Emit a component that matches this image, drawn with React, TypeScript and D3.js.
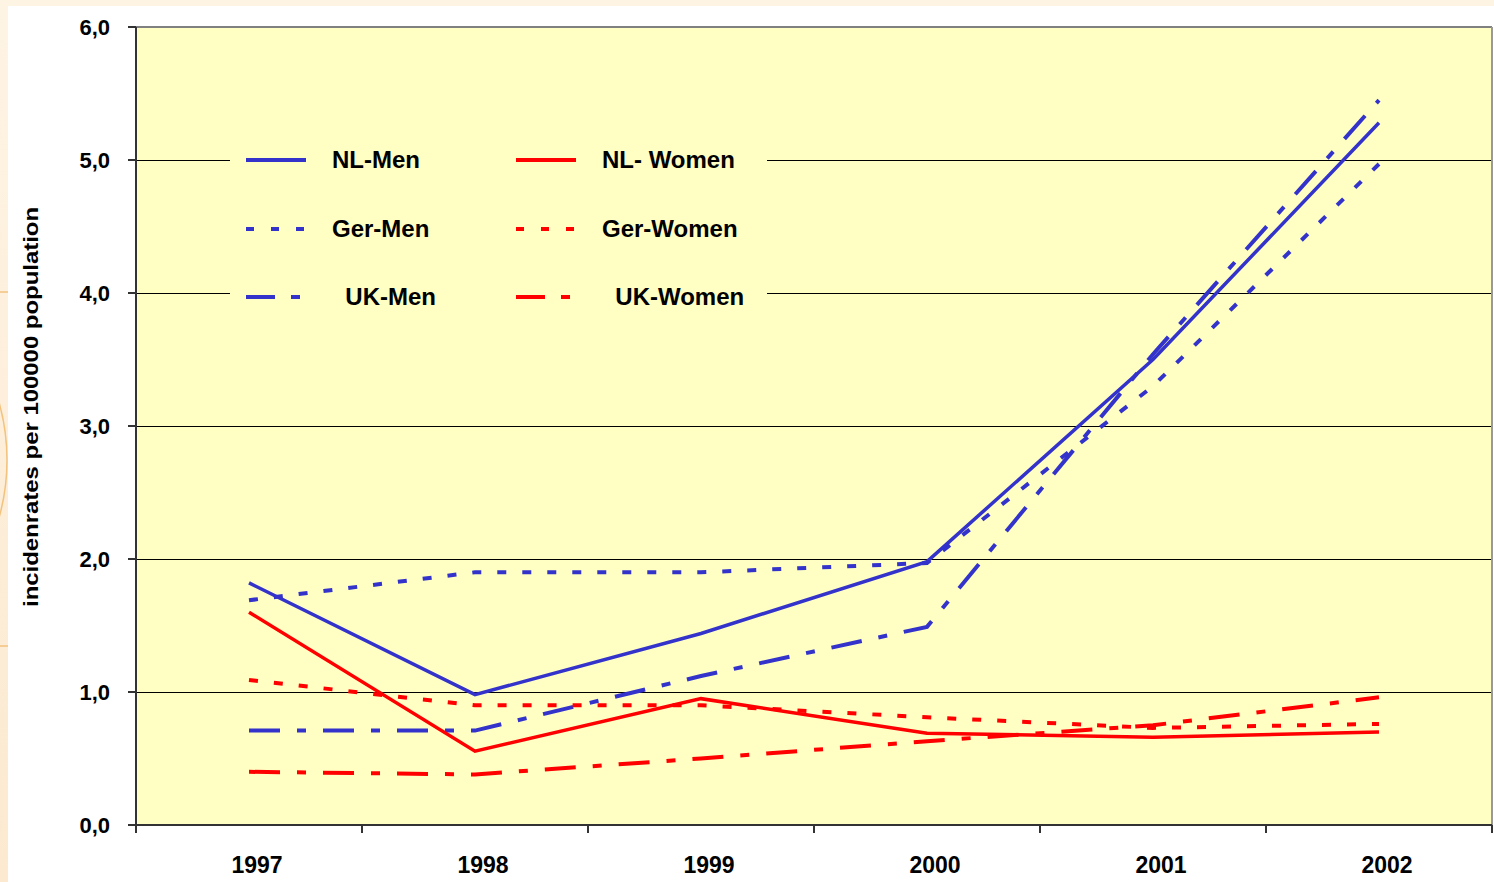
import React from 'react';
import * as d3 from 'd3';

// values
const years = ['1997', '1998', '1999', '2000', '2001', '2002'];
const nlMen = [1.82, 0.98, 1.44, 1.98, 3.5, 5.28];
const gerMen = [1.69, 1.9, 1.9, 1.97, 3.3, 4.97];
const ukMen = [0.71, 0.71, 1.12, 1.49, 3.54, 5.45];
const nlWomen = [1.6, 0.555, 0.95, 0.69, 0.66, 0.7];
const gerWomen = [1.09, 0.9, 0.9, 0.81, 0.73, 0.76];
const ukWomen = [0.4, 0.38, 0.5, 0.63, 0.75, 0.96];
const yTicks = [0, 1, 2, 3, 4, 5, 6];

const BLUE = '#3333CC';
const RED = '#FF0000';
const FONT = '"Liberation Sans", Arial, sans-serif';

const DOT = '9,16';
const DASHDOT = '31,17,9,17';

const series = [
  { name: 'NL-Men', values: nlMen, color: BLUE, dash: null },
  { name: 'Ger-Men', values: gerMen, color: BLUE, dash: DOT },
  { name: '  UK-Men', values: ukMen, color: BLUE, dash: DASHDOT },
  { name: 'NL- Women', values: nlWomen, color: RED, dash: null },
  { name: 'Ger-Women', values: gerWomen, color: RED, dash: DOT },
  { name: '  UK-Women', values: ukWomen, color: RED, dash: DASHDOT },
];

export default function App() {
  const width = 1494;
  const height = 882;
  const left = 136;
  const right = 1492;
  const top = 27;
  const bottom = 825;

  const x = d3.scalePoint<string>().domain(years).range([left, right]).padding(0.5);
  const step = x.step();
  const y = d3.scaleLinear().domain([0, 6]).range([bottom, top]);

  const line = d3
    .line<number>()
    .x((_, i) => x(years[i]) as number)
    .y((d) => y(d));

  // category boundaries for the bottom ticks
  const bounds = d3.range(years.length + 1).map((i) => left + i * step);

  // legend box sits over the grid
  const lg = { x0: 230, x1: 767, y0: 132, y1: 322 };
  const rowY = [160, 229, 297];
  const colX = [246, 516];

  return (
    <svg
      width={width}
      height={height}
      style={{ position: 'absolute', left: 0, top: 0 }}
      fontFamily={FONT}
    >
      <defs>
        <linearGradient id="peach" x1="0" y1="0" x2="0" y2="1">
          <stop offset="0" stopColor="#FEF4E4" />
          <stop offset="1" stopColor="#FCE9D0" />
        </linearGradient>
        <clipPath id="edge">
          <rect x={0} y={0} width={8} height={height} />
        </clipPath>
      </defs>
      <rect width={width} height={height} fill="url(#peach)" />
      <g clipPath="url(#edge)" fill="none" stroke="#F2C27E" strokeWidth={1.5}>
        <circle cx={-205} cy={460} r={212} />
        <line x1={0} x2={8} y1={292} y2={292} />
        <line x1={0} x2={8} y1={646} y2={646} />
      </g>
      <rect x={8} y={6} width={width - 8} height={height - 6} fill="#FFFFFF" />

      {/* plot area */}
      <rect x={left} y={top} width={right - left} height={bottom - top} fill="#FFFFC4" />

      {/* gridlines */}
      <g shapeRendering="crispEdges">
        {yTicks.slice(1, -1).map((t) => (
          <line key={t} x1={left} x2={right} y1={y(t)} y2={y(t)} stroke="#000" strokeWidth={1} />
        ))}
      </g>

      {/* legend background */}
      <rect x={lg.x0} y={lg.y0} width={lg.x1 - lg.x0} height={lg.y1 - lg.y0} fill="#FFFFC4" />
      {series.map((s, i) => {
        const col = i < 3 ? 0 : 1;
        const row = i % 3;
        const lx = colX[col];
        const ly = rowY[row];
        return (
          <g key={s.name}>
            <line
              x1={lx}
              x2={lx + 60}
              y1={ly}
              y2={ly}
              stroke={s.color}
              strokeWidth={4}
              strokeDasharray={s.dash ? (row === 1 ? '8,17' : '29,16,9,16') : undefined}
            />
            <text
              x={lx + 86}
              y={ly + 8}
              fontSize={24}
              fontWeight="bold"
              fill="#000"
              style={{ whiteSpace: 'pre' }}
            >
              {s.name}
            </text>
          </g>
        );
      })}

      <g shapeRendering="crispEdges">
        {/* frame: top and right in grey */}
        <line x1={left} x2={right} y1={top} y2={top} stroke="#808080" strokeWidth={2} />
        <line x1={right} x2={right} y1={top} y2={bottom} stroke="#999" strokeWidth={2} />

        {/* y axis */}
        <line x1={left} x2={left} y1={top} y2={bottom + 8} stroke="#333" strokeWidth={1.5} />
        {yTicks.map((t) => (
          <line key={t} x1={left - 8} x2={left} y1={y(t)} y2={y(t)} stroke="#333" strokeWidth={1.5} />
        ))}

        {/* x axis */}
        <line x1={left} x2={right} y1={bottom} y2={bottom} stroke="#333" strokeWidth={1.5} />
        {bounds.map((b, i) => (
          <line key={i} x1={b} x2={b} y1={bottom} y2={bottom + 8} stroke="#333" strokeWidth={1.5} />
        ))}
      </g>

      {yTicks.map((t) => (
        <text
          key={t}
          x={110}
          y={y(t) + 8}
          textAnchor="end"
          fontSize={22}
          fontWeight="bold"
          fill="#000"
        >
          {d3.format('.1f')(t).replace('.', ',')}
        </text>
      ))}

      {years.map((yr) => (
        <text
          key={yr}
          x={(x(yr) as number) + 8}
          y={873}
          textAnchor="middle"
          fontSize={23}
          fontWeight="bold"
          fill="#000"
        >
          {yr}
        </text>
      ))}

      {/* axis title */}
      <text
        transform="translate(38,407) rotate(-90)"
        textAnchor="middle"
        fontSize={21}
        fontWeight="bold"
        fill="#000"
        textLength={400}
        lengthAdjust="spacingAndGlyphs"
      >
        incidenrates per 100000 population
      </text>

      {/* series */}
      {series.map((s) => (
        <path
          key={s.name}
          d={line(s.values) as string}
          fill="none"
          stroke={s.color}
          strokeWidth={s.dash ? 4 : 3.5}
          strokeDasharray={s.dash ?? undefined}
          strokeLinejoin="miter"
        />
      ))}
    </svg>
  );
}
